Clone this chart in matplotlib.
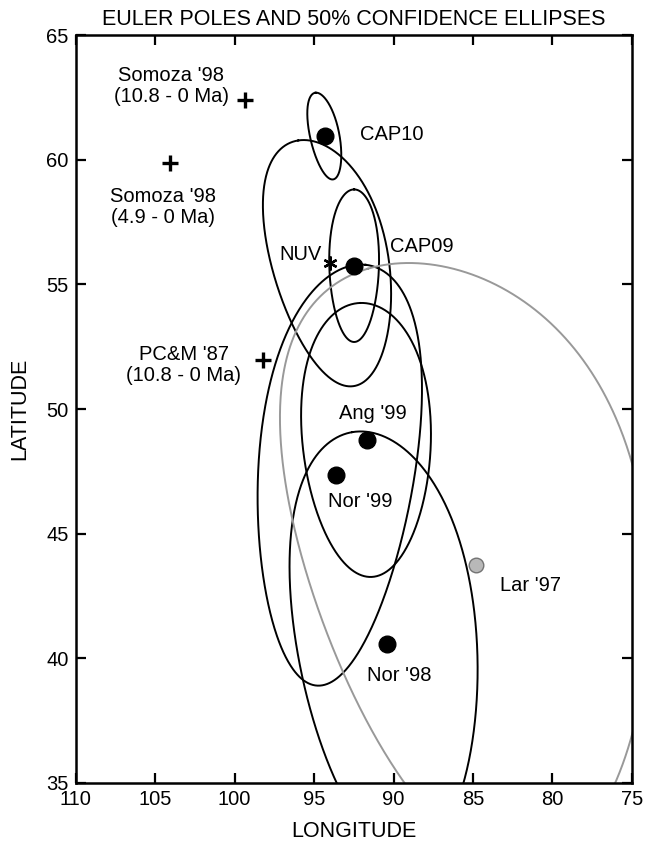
import numpy as np
import matplotlib
matplotlib.use('Agg')
import matplotlib.pyplot as plt

plt.rcParams['font.family'] = ['Liberation Sans', 'DejaVu Sans']

# === poles with 50% confidence ellipses (west longitude, latitude)
pole_names = ['CAP10', 'NUV', 'CAP09', "Ang '99", "Nor '99", "Nor '98", "Lar '97"]
pole_lon = [94.33, 94.0, 92.48, 91.7, 93.6, 90.44, 84.78]
pole_lat = [60.95, 55.85, 55.75, 48.76, 47.35, 40.58, 43.74]
pole_kind = ['dot', 'star', 'dot', 'dot', 'dot', 'dot', 'grey']

# ellipse semi-axes (degrees of arc) and azimuth of major axis (deg, from N toward E)
ell_major = [1.76, 5.02, 3.06, 5.50, 8.50, 8.61, 12.5]
ell_minor = [0.45, 2.06, 0.88, 2.67, 3.32, 4.28, 7.6]
ell_azim = [-8.7, -11.2, 0.0, -2.5, 7.0, -9.5, -18.0]

# label positions for these poles
lab_lon = [92.12, 94.53, 90.2, 91.29, 92.12, 89.65, 83.27]
lab_lat = [61.0, 56.18, 56.54, 49.83, 46.28, 39.33, 42.94]
lab_ha = ['left', 'right', 'left', 'center', 'center', 'center', 'left']

# === older poles without ellipses (crosses)
cross_names = ["Somoza '98\n(10.8 - 0 Ma)", "Somoza '98\n(4.9 - 0 Ma)", "PC&M '87\n(10.8 - 0 Ma)"]
cross_lon = [99.36, 104.07, 98.21]
cross_lat = [62.4, 59.87, 51.97]
cross_lab_lon = [104.0, 104.5, 103.2]
cross_lab_lat = [62.96, 58.12, 51.77]

xticks = [110, 105, 100, 95, 90, 85, 80, 75]
yticks = [35, 40, 45, 50, 55, 60, 65]


def ellipse_track(lon0, lat0, a, b, az):
    # outline of an ellipse on the sphere, drawn in lon/lat
    t = np.linspace(0, 2 * np.pi, 721)
    u, v = a * np.cos(t), b * np.sin(t)
    s, c = np.sin(np.radians(az)), np.cos(np.radians(az))
    east = u * s + v * c
    north = u * c - v * s
    lat = lat0 + north
    lon = lon0 - east / np.cos(np.radians(lat))
    return lon, lat


fig = plt.figure(figsize=(6.48, 8.46), dpi=100)
ax = fig.add_axes([0.117, 0.0745, 0.858, 0.884])

for i in range(len(pole_names)):
    lon, lat = ellipse_track(pole_lon[i], pole_lat[i], ell_major[i], ell_minor[i], ell_azim[i])
    col = '0.6' if pole_kind[i] == 'grey' else 'black'
    ax.plot(lon, lat, color=col, linewidth=1.4, zorder=2)

for i in range(len(pole_names)):
    if pole_kind[i] == 'dot':
        ax.plot(pole_lon[i], pole_lat[i], 'o', color='black', markersize=12, zorder=4)
    elif pole_kind[i] == 'grey':
        ax.plot(pole_lon[i], pole_lat[i], 'o', markerfacecolor='0.72', markeredgecolor='0.45',
                markeredgewidth=1.0, markersize=10.5, zorder=4)
    else:
        ax.plot(pole_lon[i], pole_lat[i], marker=(6, 2, 0), color='black', markersize=10,
                markeredgewidth=1.7, zorder=4)
    ax.text(lab_lon[i], lab_lat[i], pole_names[i], ha=lab_ha[i], va='center', fontsize=14.5)

ax.plot(cross_lon, cross_lat, '+', color='black', markersize=12, markeredgewidth=2.4, zorder=4)
for i in range(len(cross_names)):
    ax.text(cross_lab_lon[i], cross_lab_lat[i], cross_names[i], ha='center', va='center',
            fontsize=14.5, linespacing=1.12)

ax.set_xlim(110, 75)
ax.set_ylim(35, 65)
ax.set_xticks(xticks)
ax.set_yticks(yticks)
ax.tick_params(direction='in', top=True, right=True, length=7, width=1.6, labelsize=14.5, pad=5)
for sp in ax.spines.values():
    sp.set_linewidth(1.8)

ax.set_title('EULER POLES AND 50% CONFIDENCE ELLIPSES', fontsize=15.5, pad=7)
ax.set_xlabel('LONGITUDE', fontsize=15.5, labelpad=9)
ax.set_ylabel('LATITUDE', fontsize=15.5, labelpad=12)

fig.savefig('out.png', dpi=100)
